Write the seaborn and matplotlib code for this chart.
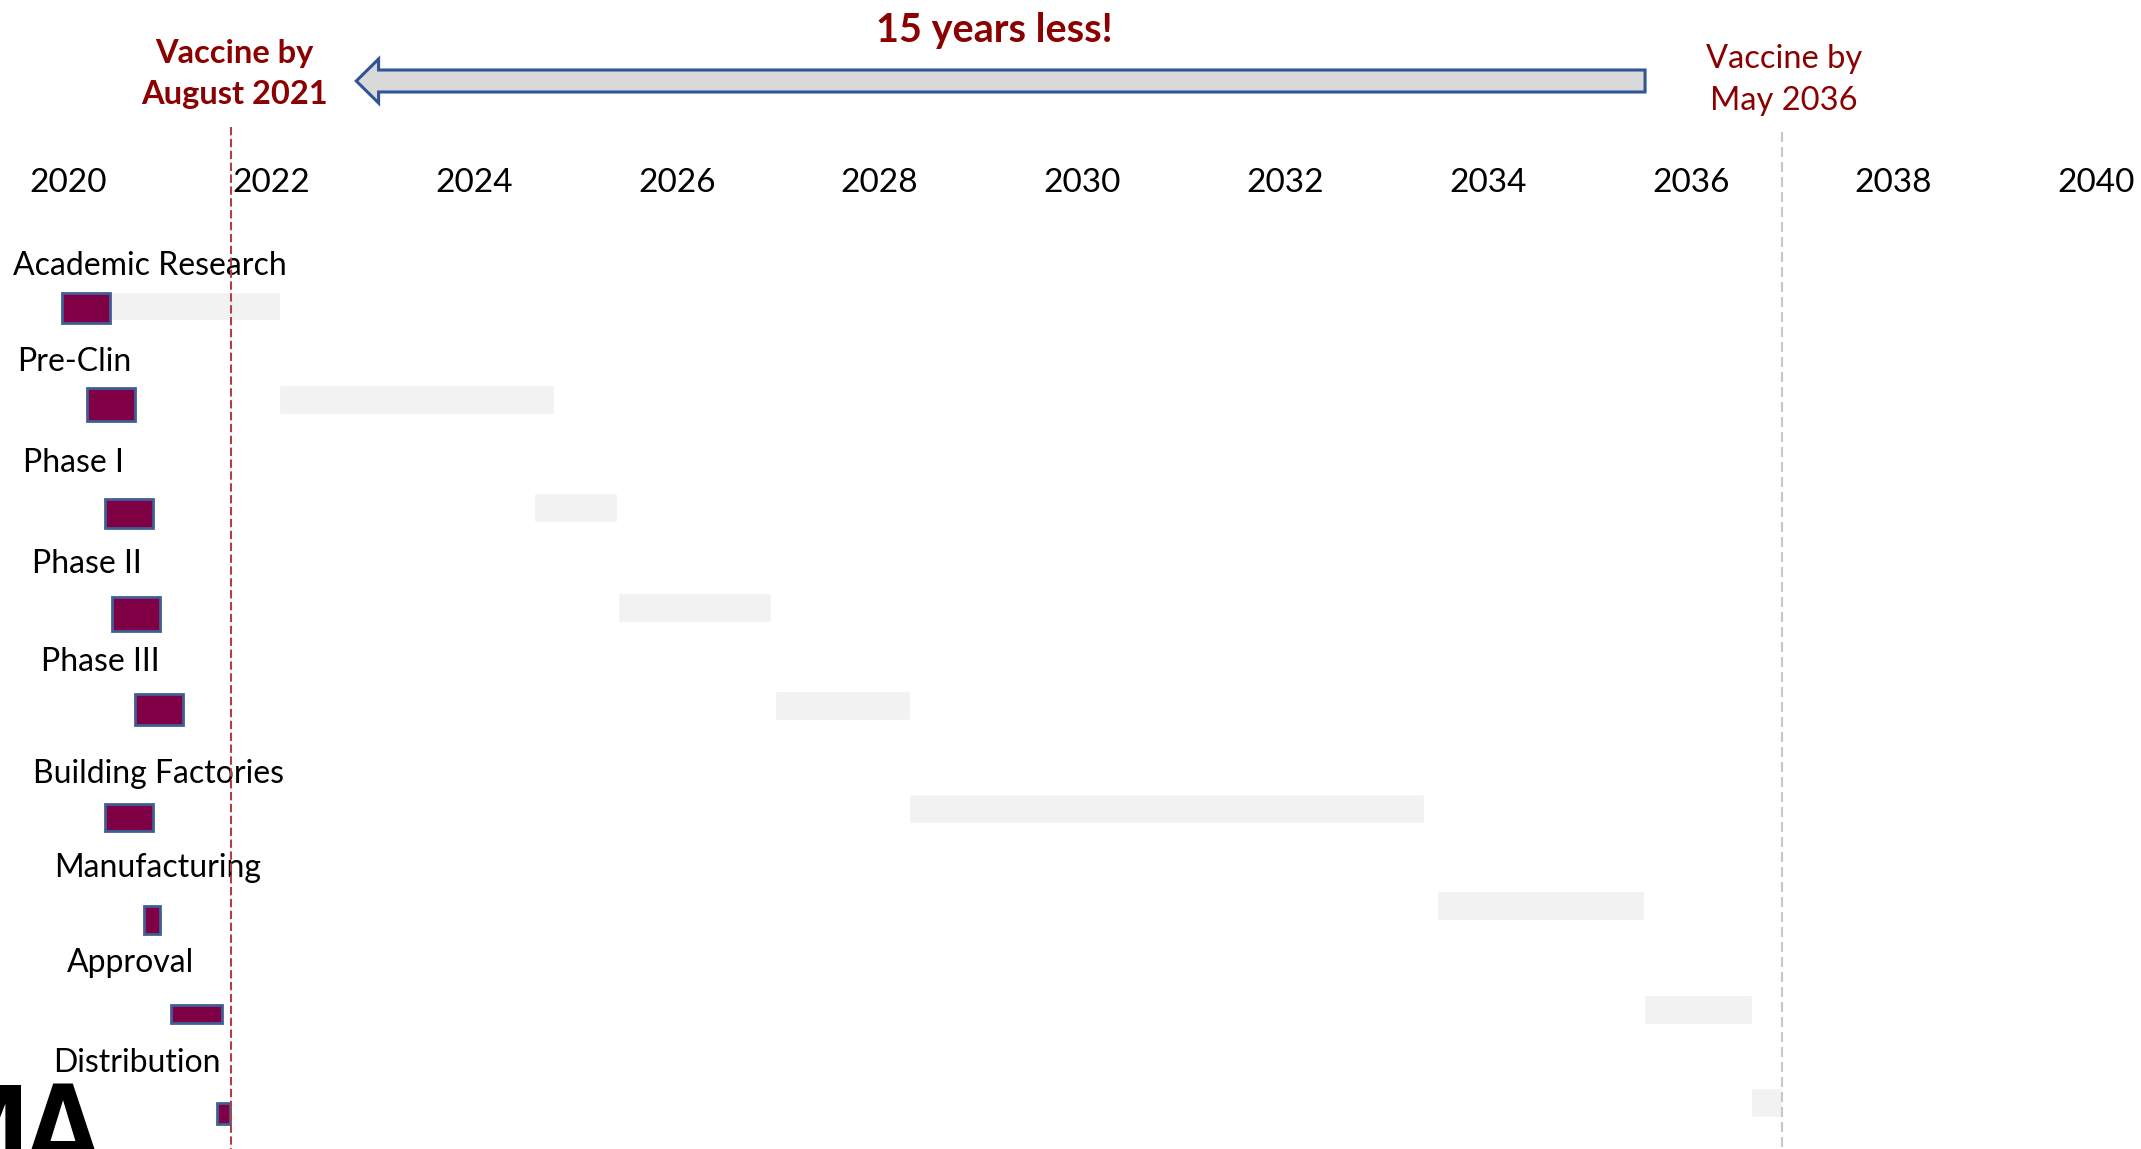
import pandas as pd
import matplotlib.pyplot as plt
import seaborn as sns
from matplotlib.patches import FancyArrow
from matplotlib.transforms import blended_transform_factory

# stages of vaccine development, fast (2020) vs traditional timeline, in years
stages = ['Academic Research', 'Pre-Clin', 'Phase I', 'Phase II', 'Phase III',
          'Building Factories', 'Manufacturing', 'Approval', 'Distribution']
fast_start = [2019.94, 2020.18, 2020.36, 2020.43, 2020.66, 2020.36, 2020.75, 2021.01, 2021.47]
fast_end = [2020.41, 2020.66, 2020.84, 2020.90, 2021.13, 2020.84, 2020.90, 2021.52, 2021.59]
slow_start = [2019.92, 2022.08, 2024.59, 2025.42, 2026.97, 2028.29, 2033.50, 2035.54, 2036.59]
slow_end = [2022.09, 2024.79, 2025.41, 2026.93, 2028.30, 2033.37, 2035.54, 2036.60, 2036.90]
year_ticks = list(range(2020, 2041, 2))

fast_done = 2021.60   # Aug 2021
slow_done = 2036.90   # May 2036
arrow_from = 2035.55
arrow_to = 2022.84

# layout / style (not data)
label_x = [2019.45, 2019.50, 2019.55, 2019.64, 2019.73, 2019.65, 2019.86, 2019.99, 2019.85]
label_dy = [-0.31, -0.35, -0.33, -0.32, -0.34, -0.21, -0.27, -0.31, -0.31]
grey_dy = [0.0, -0.06, 0.02, 0.03, 0.01, 0.045, 0.02, 0.06, 0.0]
purple_dy = [0.02, -0.01, 0.08, 0.09, 0.05, 0.135, 0.165, 0.11, 0.11]
purple_h = [0.30, 0.33, 0.29, 0.34, 0.31, 0.27, 0.29, 0.18, 0.21]

df = pd.DataFrame({'stage': stages, 'fast_start': fast_start, 'fast_end': fast_end,
                   'slow_start': slow_start, 'slow_end': slow_end})
df['row'] = range(len(df))

RED = '#8b0000'
PURPLE = '#7f0045'
EDGE = '#3f5f96'

sns.set_theme(style='white')
plt.rcParams['font.family'] = ['Lato', 'DejaVu Sans']

W, H = 2141, 1149
fig = plt.figure(figsize=(W / 100, H / 100), dpi=100)
top_px = 205
ax = fig.add_axes([0, 0, 1, 1 - top_px / H])

def fy(px):
    return 1 - px / H

tr = blended_transform_factory(ax.transData, fig.transFigure)

# traditional timeline (light grey)
ax.barh(df['row'] + grey_dy, df['slow_end'] - df['slow_start'], left=df['slow_start'],
        height=0.29, color='#f2f2f2', zorder=1)
# fast timeline (purple)
ax.barh(df['row'] + purple_dy, df['fast_end'] - df['fast_start'], left=df['fast_start'],
        height=purple_h, color=PURPLE, edgecolor=EDGE, linewidth=2.0, zorder=2)

for i, s in enumerate(stages):
    ax.text(label_x[i], i + label_dy[i], s, ha='left', va='baseline',
            fontsize=23, color='black', zorder=3)

# vertical markers
ax.plot([fast_done, fast_done], [fy(127), 0], transform=tr, clip_on=False,
        color='#b0413e', lw=1.5, dashes=(4, 1.7), zorder=5)
ax.plot([slow_done, slow_done], [fy(132), 0], transform=tr, clip_on=False,
        color='#c8c8c8', lw=1.5, dashes=(4.8, 2.4), zorder=5)

# arrow
arr = FancyArrow(arrow_from, fy(81), arrow_to - arrow_from, 0, width=22 / H,
                 head_width=44 / H, head_length=0.22, length_includes_head=True,
                 facecolor='#d9d9d9', edgecolor='#2f5597', linewidth=2.2,
                 transform=tr, clip_on=False, zorder=4)
ax.add_patch(arr)

ax.text((arrow_from + arrow_to) / 2 - 0.06, fy(42), '15 years less!', transform=tr,
        ha='center', va='baseline', fontsize=28.5, fontweight='bold', color=RED)
ax.text(fast_done + 0.04, fy(63), 'Vaccine by', transform=tr, ha='center',
        va='baseline', fontsize=23.5, fontweight='bold', color=RED)
ax.text(fast_done + 0.04, fy(104), 'August 2021', transform=tr, ha='center',
        va='baseline', fontsize=23.5, fontweight='bold', color=RED)
ax.text(slow_done + 0.02, fy(68), 'Vaccine by', transform=tr, ha='center',
        va='baseline', fontsize=23.5, color=RED)
ax.text(slow_done + 0.02, fy(110), 'May 2036', transform=tr, ha='center',
        va='baseline', fontsize=23.5, color=RED)

# axes
x0 = 2020 - 68.3 / 101.4
x1 = 2020 + (W - 68.3) / 101.4
ax.set_xlim(x0, x1)
ax.set_ylim((H - 306) / 99.6, (top_px - 306) / 99.6)
ax.xaxis.tick_top()
ax.set_xticks(year_ticks)
ax.set_xticklabels([str(y) for y in year_ticks], fontsize=24, color='black')
ax.tick_params(axis='x', length=0, pad=5)
ax.set_yticks([])
sns.despine(ax=ax, left=True, bottom=True, top=True, right=True)
ax.grid(False)

# logo fragment at bottom left (cut off by the edge, as in the original)
fig.text(97 / W, fy(1082), 'MΔ', ha='right', va='top', fontsize=70,
         fontweight='bold', fontstretch='condensed', color='black',
         family=['DejaVu Sans'])

fig.savefig('out.png', dpi=100)
